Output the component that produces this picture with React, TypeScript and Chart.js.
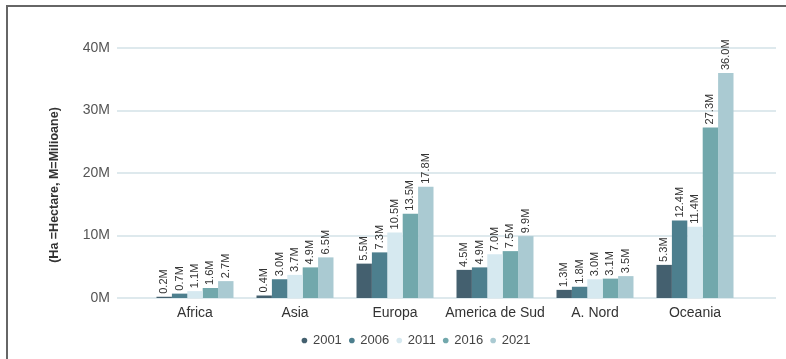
import React, { useEffect, useRef } from "react";
import { Chart, registerables } from "chart.js";

Chart.register(...registerables);

// Suprafete pe regiuni, in milioane de hectare
const regions = ["Africa", "Asia", "Europa", "America de Sud", "A. Nord", "Oceania"];
const years = ["2001", "2006", "2011", "2016", "2021"];
const area2001 = [0.2, 0.4, 5.5, 4.5, 1.3, 5.3];
const area2006 = [0.7, 3.0, 7.3, 4.9, 1.8, 12.4];
const area2011 = [1.1, 3.7, 10.5, 7.0, 3.0, 11.4];
const area2016 = [1.6, 4.9, 13.5, 7.5, 3.1, 27.3];
const area2021 = [2.7, 6.5, 17.8, 9.9, 3.5, 36.0];
const yTicks = [0, 10, 20, 30, 40];
const yTitle = "(Ha =Hectare, M=Milioane)";

const seriesValues = [area2001, area2006, area2011, area2016, area2021];
const seriesColors = ["#44606f", "#4d7f8e", "#d6e9f0", "#72a8ac", "#aacad2"];

const FONT = "Arial, 'Liberation Sans', sans-serif";

// Horizontal guide lines that run a little past both sides of the plot area
const extendedGrid = {
  id: "extendedGrid",
  beforeDatasetsDraw(chart: any) {
    const { ctx, chartArea, scales } = chart;
    const y = scales.y;
    ctx.save();
    ctx.strokeStyle = "#d3e2e7";
    ctx.lineWidth = 1.5;
    y.ticks.forEach((t: any) => {
      const py = Math.round(y.getPixelForValue(t.value));
      ctx.beginPath();
      ctx.moveTo(chartArea.left - 28, py);
      ctx.lineTo(chartArea.right + 31, py);
      ctx.stroke();
    });
    ctx.restore();
  },
};

// Vertical value labels above each bar
const valueLabels = {
  id: "valueLabels",
  afterDatasetsDraw(chart: any) {
    const { ctx } = chart;
    ctx.save();
    ctx.font = `11px ${FONT}`;
    ctx.fillStyle = "#333";
    ctx.textAlign = "left";
    ctx.textBaseline = "middle";
    chart.data.datasets.forEach((ds: any, i: number) => {
      const meta = chart.getDatasetMeta(i);
      meta.data.forEach((bar: any, j: number) => {
        const v = ds.data[j] as number;
        ctx.save();
        ctx.translate(bar.x, bar.y - 3);
        ctx.rotate(-Math.PI / 2);
        ctx.fillText(`${v.toFixed(1)}M`, 0, 0);
        ctx.restore();
      });
    });
    ctx.restore();
  },
};

// Rotated unit caption to the left of the value axis
const unitCaption = {
  id: "unitCaption",
  afterDraw(chart: any) {
    const { ctx, chartArea, scales } = chart;
    ctx.save();
    ctx.font = `bold 12.5px ${FONT}`;
    ctx.fillStyle = "#333";
    ctx.textAlign = "center";
    ctx.textBaseline = "middle";
    ctx.translate(scales.y.left + 8, (chartArea.top + chartArea.bottom) / 2 + 12);
    ctx.rotate(-Math.PI / 2);
    ctx.fillText(yTitle, 0, 0);
    ctx.restore();
  },
};

export default function App() {
  const canvasRef = useRef<HTMLCanvasElement | null>(null);

  useEffect(() => {
    if (!canvasRef.current) return;
    const chart = new Chart(canvasRef.current, {
      type: "bar",
      data: {
        labels: regions,
        datasets: years.map((yr, i) => ({
          label: yr,
          data: seriesValues[i],
          backgroundColor: seriesColors[i],
          borderWidth: 0,
          barPercentage: 1,
          categoryPercentage: 0.77,
        })),
      },
      options: {
        animation: false,
        responsive: false,
        devicePixelRatio: 1,
        layout: { padding: { left: 47, right: 0, top: 48, bottom: 2 } },
        plugins: {
          tooltip: { enabled: false },
          legend: {
            position: "bottom",
            labels: {
              usePointStyle: true,
              pointStyle: "circle",
              boxWidth: 4,
              boxHeight: 4,
              padding: 8,
              color: "#444",
              font: { family: FONT, size: 13 },
            },
          },
        },
        scales: {
          x: {
            grid: { display: false, drawTicks: false },
            border: { display: false },
            ticks: {
              color: "#333",
              font: { family: FONT, size: 14 },
              padding: 7,
              maxRotation: 0,
              autoSkip: false,
            },
            afterFit: (s: any) => {
              s.height = 28;
            },
          },
          y: {
            min: 0,
            max: yTicks[yTicks.length - 1],
            grid: { display: false, drawTicks: false },
            border: { display: false },
            afterBuildTicks: (s: any) => {
              s.ticks = yTicks.map((v) => ({ value: v }));
            },
            ticks: {
              color: "#555",
              font: { family: FONT, size: 14 },
              padding: 35,
              callback: (v: any) => `${v}M`,
            },
            afterFit: (s: any) => {
              s.width = 98;
            },
          },
          yRight: {
            position: "right",
            display: true,
            grid: { display: false, drawTicks: false },
            border: { display: false },
            ticks: { display: false },
            afterFit: (s: any) => {
              s.width = 41;
            },
          },
        },
      },
      plugins: [extendedGrid, valueLabels, unitCaption],
    } as any);
    return () => chart.destroy();
  }, []);

  return (
    <div
      style={{
        position: "fixed",
        left: 0,
        top: 0,
        width: 786,
        height: 359,
        background: "#fff",
        overflow: "hidden",
      }}
    >
      <canvas
        ref={canvasRef}
        width={786}
        height={359}
        style={{ position: "absolute", left: 0, top: 0, width: 786, height: 359 }}
      />
      <div
        style={{
          position: "absolute",
          left: 6,
          top: 5,
          width: 800,
          height: 400,
          borderTop: "2px solid #666",
          borderLeft: "2px solid #666",
          pointerEvents: "none",
        }}
      />
    </div>
  );
}
